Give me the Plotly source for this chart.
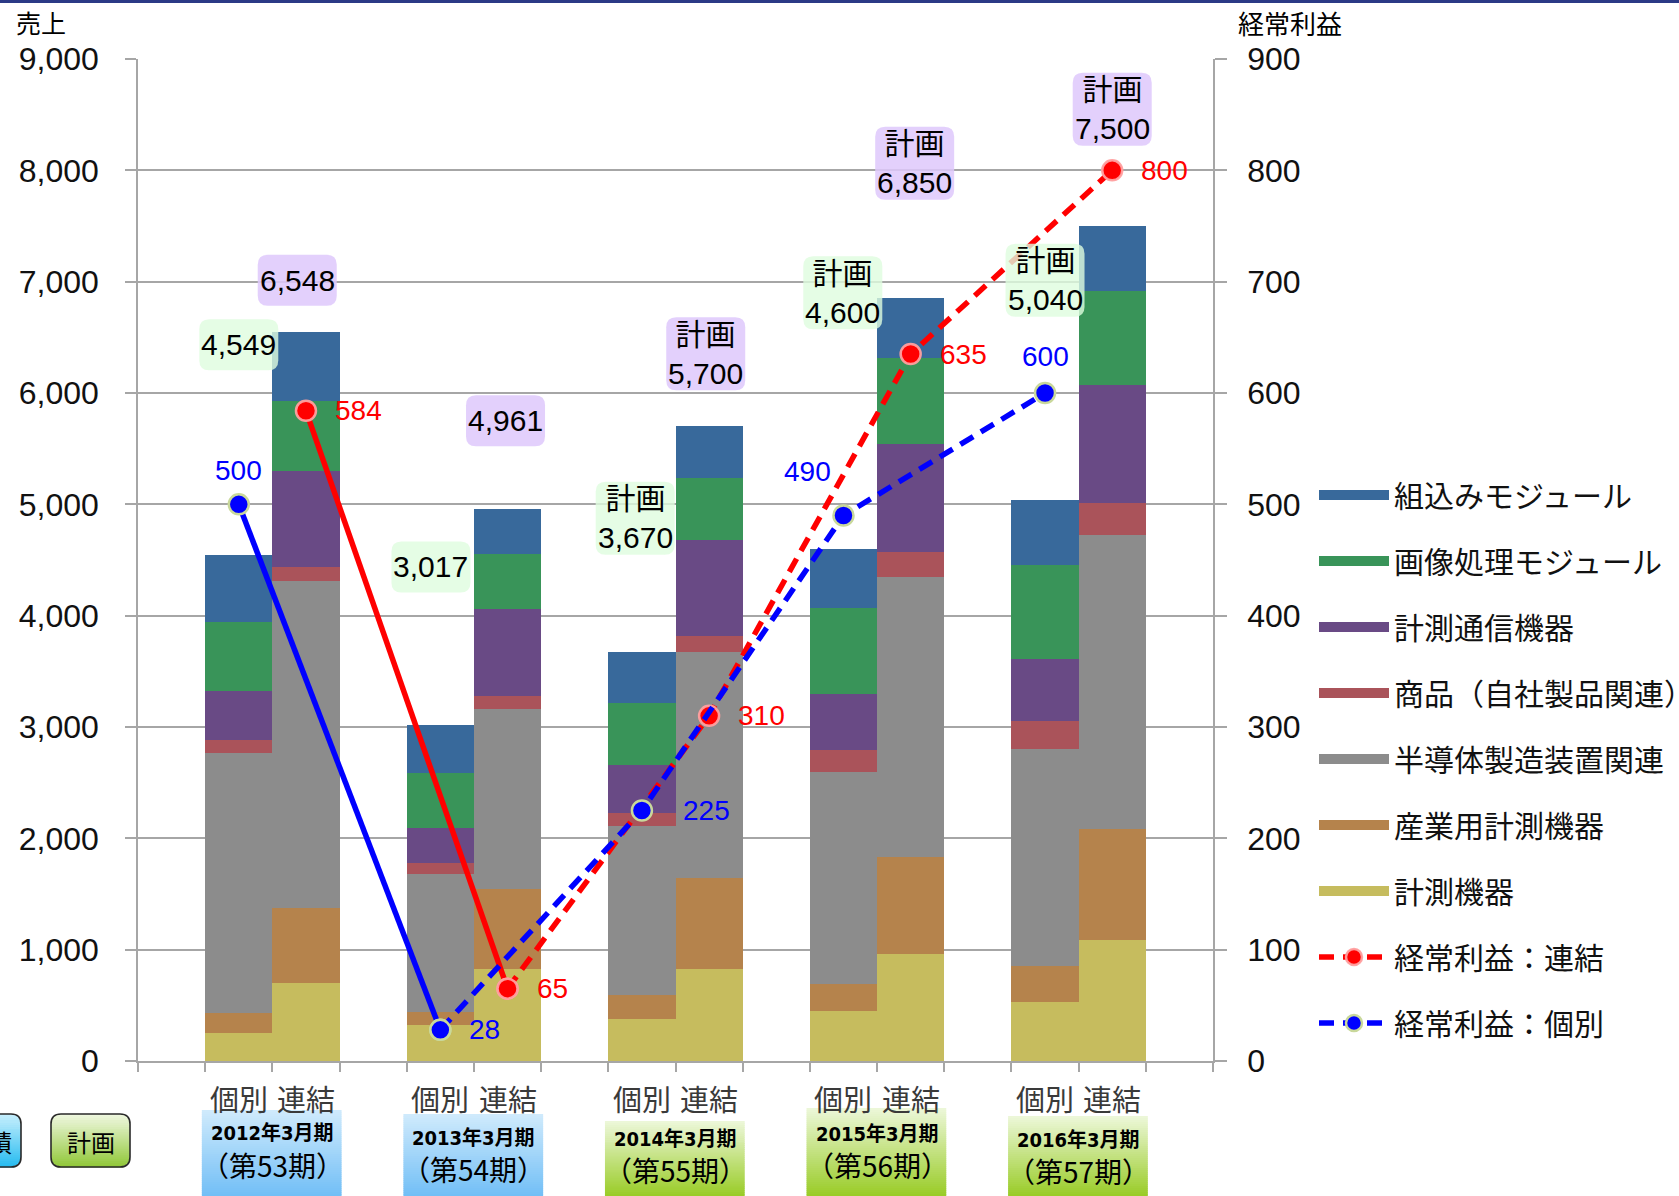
import plotly.graph_objects as go

# ---------------- data ----------------
periods = ["2012年3月期", "2013年3月期", "2014年3月期", "2015年3月期", "2016年3月期"]
terms = ["（第53期）", "（第54期）", "（第55期）", "（第56期）", "（第57期）"]
kinds = ["個別", "連結"]
is_plan = [False, False, True, True, True]

segments = ["計測機器", "産業用計測機器", "半導体製造装置関連", "商品（自社製品関連）",
            "計測通信機器", "画像処理モジュール", "組込みモジュール"]
seg_colors = ["#C6BC5E", "#B5834C", "#8C8C8C", "#AA535A", "#694A85", "#399459", "#38699B"]

# 個別 (non-consolidated) sales by segment, 5 periods
ind_keisoku = [250, 320, 380, 445, 530]
ind_sangyo = [180, 120, 210, 245, 325]
ind_handotai = [2340, 1240, 1520, 1905, 1945]
ind_shohin = [110, 95, 120, 200, 255]
ind_tsushin = [445, 320, 430, 500, 560]
ind_gazo = [622, 495, 555, 770, 840]
ind_kumikomi = [602, 427, 455, 535, 585]

# 連結 (consolidated) sales by segment
con_keisoku = [700, 825, 830, 960, 1090]
con_sangyo = [670, 720, 815, 875, 995]
con_handotai = [2940, 1615, 2030, 2510, 2640]
con_shohin = [125, 120, 145, 225, 285]
con_tsushin = [865, 780, 860, 975, 1060]
con_gazo = [630, 490, 555, 770, 845]
con_kumikomi = [618, 411, 465, 535, 585]

ind_series = [ind_keisoku, ind_sangyo, ind_handotai, ind_shohin, ind_tsushin, ind_gazo, ind_kumikomi]
con_series = [con_keisoku, con_sangyo, con_handotai, con_shohin, con_tsushin, con_gazo, con_kumikomi]

# ordinary profit
profit_con = [584, 65, 310, 635, 800]
profit_ind = [500, 28, 225, 490, 600]

# ---------------- layout helpers ----------------
W, H = 1679, 1196
ML, MR, MT, MB = 138, 466, 59, 135
PW = W - ML - MR
PH = H - MT - MB
Y_BOTTOM = H - MB
XMAX, YMAX, Y2MAX = 16, 9000, 900


def px_x(px):
    return (px - ML) / PW


def px_y(py):
    return (Y_BOTTOM - py) / PH


def dx_to_px(x):
    return ML + x / XMAX * PW


def dy_to_px(y):
    return Y_BOTTOM - y / YMAX * PH


ind_x = [3 * i + 1.5 for i in range(len(periods))]
con_x = [3 * i + 2.5 for i in range(len(periods))]

fig = go.Figure()

# stacked bars
for name, col, iv, cv in zip(segments, seg_colors, ind_series, con_series):
    fig.add_trace(go.Bar(
        x=ind_x + con_x, y=iv + cv, width=1.0, name=name,
        marker=dict(color=col, line=dict(width=0)),
        showlegend=False, legendgroup=name, hoverinfo="y+name"))

# legend proxies (wide line symbols like the original)
for name, col in reversed(list(zip(segments, seg_colors))):
    fig.add_trace(go.Scatter(
        x=[None], y=[None], mode="lines", name=name, legendgroup=name,
        line=dict(color=col, width=12)))

RED, BLUE = "#FF0000", "#0000FF"
DASH = "15px,9px"
red_marker = dict(color=RED, size=20, line=dict(color="rgba(255,160,160,0.95)", width=2.5))
blue_marker = dict(color=BLUE, size=20, line=dict(color="#C9D89B", width=2.5))

# red: 経常利益 連結
fig.add_trace(go.Scatter(x=con_x[:2], y=profit_con[:2], yaxis="y2", mode="lines+markers",
                         line=dict(color=RED, width=5.5), marker=red_marker,
                         showlegend=False, legendgroup="rc"))
fig.add_trace(go.Scatter(x=con_x[1:], y=profit_con[1:], yaxis="y2", mode="lines+markers",
                         name="経常利益：連結", legendgroup="rc",
                         line=dict(color=RED, width=5.5, dash=DASH), marker=red_marker))
# blue: 経常利益 個別
fig.add_trace(go.Scatter(x=ind_x[:2], y=profit_ind[:2], yaxis="y2", mode="lines+markers",
                         line=dict(color=BLUE, width=5.5), marker=blue_marker,
                         showlegend=False, legendgroup="bi"))
fig.add_trace(go.Scatter(x=ind_x[1:], y=profit_ind[1:], yaxis="y2", mode="lines+markers",
                         name="経常利益：個別", legendgroup="bi",
                         line=dict(color=BLUE, width=5.5, dash=DASH), marker=blue_marker))

annotations = []
shapes = []

NUMFONT = "Liberation Sans, Arial, Noto Sans CJK JP"
JPFONT = "Noto Sans CJK JP, Noto Sans, sans-serif"

# profit value labels
red_shift = [(27, 0), (27, 0), (27, 0), (27, 0), (27, 0)]
blue_shift = [(0, 34, "center"), (27, 0, "left"), (39, 0, "left"), (-36, 44, "center"), (0, 37, "center")]
for x, v, (xs, ys) in zip(con_x, profit_con, red_shift):
    annotations.append(dict(x=x, y=v, xref="x", yref="y2", text=str(v), showarrow=False,
                            xanchor="left", xshift=xs, yshift=ys,
                            font=dict(family=NUMFONT, size=28, color=RED)))
for x, v, (xs, ys, xa) in zip(ind_x, profit_ind, blue_shift):
    annotations.append(dict(x=x, y=v, xref="x", yref="y2", text=str(v), showarrow=False,
                            xanchor=xa, xshift=xs, yshift=ys,
                            font=dict(family=NUMFONT, size=28, color=BLUE)))


def rounded_path(x0, y0, x1, y1, r):
    X = lambda v: f"{px_x(v):.5f}"
    Y = lambda v: f"{px_y(v):.5f}"
    return (f"M {X(x0 + r)},{Y(y0)} L {X(x1 - r)},{Y(y0)} Q {X(x1)},{Y(y0)} {X(x1)},{Y(y0 + r)} "
            f"L {X(x1)},{Y(y1 - r)} Q {X(x1)},{Y(y1)} {X(x1 - r)},{Y(y1)} "
            f"L {X(x0 + r)},{Y(y1)} Q {X(x0)},{Y(y1)} {X(x0)},{Y(y1 - r)} "
            f"L {X(x0)},{Y(y0 + r)} Q {X(x0)},{Y(y0)} {X(x0 + r)},{Y(y0)} Z")


# total labels (rounded translucent boxes)
ind_totals = [sum(s[i] for s in ind_series) for i in range(len(periods))]
con_totals = [sum(s[i] for s in con_series) for i in range(len(periods))]
ind_lab_pos = [(1.50, 6433), (4.36, 4438), (7.40, 4874), (10.49, 6900), (13.50, 7012)]
con_lab_pos = [(2.37, 7012), (5.47, 5750), (8.45, 6352), (11.56, 8064), (14.50, 8549)]

for totals, poss, fillc in [(ind_totals, ind_lab_pos, "rgba(222,252,222,0.80)"),
                            (con_totals, con_lab_pos, "rgba(222,200,252,0.85)")]:
    for t, plan, (x, y) in zip(totals, is_plan, poss):
        txt = f"{t:,}"
        if plan:
            txt = "計画<br>" + txt
        cx, cy = dx_to_px(x), dy_to_px(y)
        bw = 79
        bh = 73 if plan else 51
        shapes.append(dict(type="path", xref="paper", yref="paper",
                           path=rounded_path(cx - bw / 2, cy - bh / 2, cx + bw / 2, cy + bh / 2, 10),
                           fillcolor=fillc, line=dict(width=0), layer="above"))
        annotations.append(dict(x=x, y=y, xref="x", yref="y", text=txt, showarrow=False,
                                xanchor="center", yanchor="middle",
                                font=dict(family=NUMFONT, size=30, color="#000000")))


def lerp(c0, c1, t):
    return "rgb(%d,%d,%d)" % tuple(round(a + (b - a) * t) for a, b in zip(c0, c1))


def gradient_box(x0, y0, x1, y1, ctop, cbot, r=0, border=None):
    n = max(8, int((y1 - y0) / 2))
    h = (y1 - y0) / n
    for k in range(n):
        sy0 = y0 + k * h
        sy1 = sy0 + h + 0.6
        mid = (sy0 + sy1) / 2
        inset = 0
        if r > 0:
            d = None
            if mid < y0 + r:
                d = y0 + r - mid
            elif mid > y1 - r:
                d = mid - (y1 - r)
            if d is not None:
                inset = r - (max(r * r - d * d, 0)) ** 0.5
        shapes.append(dict(type="rect", xref="paper", yref="paper",
                           x0=px_x(x0 + inset), x1=px_x(x1 - inset),
                           y0=px_y(sy1), y1=px_y(sy0),
                           fillcolor=lerp(ctop, cbot, k / (n - 1)), line=dict(width=0),
                           layer="above"))
    if border:
        shapes.append(dict(type="path", xref="paper", yref="paper",
                           path=rounded_path(x0, y0, x1, y1, r), fillcolor="rgba(0,0,0,0)",
                           line=dict(color=border, width=1.6), layer="above"))


# period boxes under the axis
BLUE_TOP, BLUE_BOT = (207, 234, 252), (112, 190, 246)
GREEN_TOP, GREEN_BOT = (236, 247, 216), (152, 203, 36)
box_tops = [1110, 1114, 1121, 1108, 1116]
year_text_y = [1133, 1138, 1139, 1134, 1140]
term_text_y = [1165, 1169, 1170, 1165, 1171]
for i, (p, tm, plan) in enumerate(zip(periods, terms, is_plan)):
    x0 = dx_to_px(ind_x[i] - 0.55)
    x1 = dx_to_px(con_x[i] + 0.53)
    top = box_tops[i]
    ct, cb = (GREEN_TOP, GREEN_BOT) if plan else (BLUE_TOP, BLUE_BOT)
    gradient_box(x0, top, x1, H + 2, ct, cb)
    cx = (ind_x[i] + con_x[i]) / 2
    annotations.append(dict(x=cx, y=px_y(year_text_y[i]), xref="x", yref="paper", text=f"<b>{p}</b>",
                            showarrow=False, xanchor="center", yanchor="middle",
                            font=dict(family="Liberation Sans Narrow, DejaVu Sans Condensed, Noto Sans CJK JP",
                                      size=20, color="#000000")))
    annotations.append(dict(x=cx, y=px_y(term_text_y[i]), xref="x", yref="paper", text=tm,
                            showarrow=False, xanchor="center", yanchor="middle",
                            font=dict(family=JPFONT, size=28, color="#000000")))

# 個別 / 連結 labels under each bar
for i in range(len(periods)):
    for x, k in ((ind_x[i], kinds[0]), (con_x[i], kinds[1])):
        annotations.append(dict(x=x, y=px_y(1098), xref="x", yref="paper", text=k,
                                showarrow=False, xanchor="center", yanchor="middle",
                                font=dict(family=JPFONT, size=29, color="#3a3a3a")))

# small legend buttons at bottom-left
gradient_box(-60, 1114, 21, 1167, (196, 238, 253), (40, 188, 240), r=10, border="#2a2a2a")
annotations.append(dict(x=px_x(-12), y=px_y(1141), xref="paper", yref="paper", text="実績",
                        showarrow=False, xanchor="center", yanchor="middle",
                        font=dict(family=JPFONT, size=24, color="#000000")))
gradient_box(51, 1114, 130, 1167, (238, 247, 222), (146, 200, 58), r=10, border="#2a2a2a")
annotations.append(dict(x=px_x(90.5), y=px_y(1141), xref="paper", yref="paper", text="計画",
                        showarrow=False, xanchor="center", yanchor="middle",
                        font=dict(family=JPFONT, size=24, color="#000000")))

# axis titles
annotations.append(dict(x=px_x(14), y=px_y(22), xref="paper", yref="paper", text="売上",
                        showarrow=False, xanchor="left", yanchor="middle",
                        font=dict(family=JPFONT, size=25, color="#000000")))
annotations.append(dict(x=px_x(1236), y=px_y(22), xref="paper", yref="paper", text="経常利益",
                        showarrow=False, xanchor="left", yanchor="middle",
                        font=dict(family=JPFONT, size=26, color="#000000")))

# top navy rule
shapes.append(dict(type="rect", xref="paper", yref="paper", x0=px_x(0), x1=px_x(W),
                   y0=px_y(3), y1=px_y(-2), fillcolor="#2B3A86", line=dict(width=0), layer="above"))

GRID = "#A6A6A6"
fig.update_layout(
    width=W, height=H,
    margin=dict(l=ML, r=MR, t=MT, b=MB, autoexpand=False),
    paper_bgcolor="white", plot_bgcolor="white",
    barmode="relative", bargap=0,
    font=dict(family=JPFONT, color="#000000"),
    xaxis=dict(range=[0, XMAX], tickvals=list(range(XMAX + 1)), showticklabels=False,
               ticks="outside", ticklen=9, tickwidth=1.5, tickcolor=GRID,
               showline=True, linecolor=GRID, linewidth=1.5, showgrid=False, zeroline=False,
               fixedrange=True, automargin=False),
    yaxis=dict(range=[0, YMAX], dtick=1000, tickformat=",d", showgrid=True,
               gridcolor=GRID, gridwidth=1.5, showline=True, linecolor=GRID, linewidth=1.5,
               ticks="outside", ticklen=11, tickwidth=1.5, tickcolor=GRID, ticklabelstandoff=20,
               tickfont=dict(family=NUMFONT, size=32, color="#111111"), zeroline=False,
               automargin=False),
    yaxis2=dict(range=[0, Y2MAX], dtick=100, overlaying="y", side="right", showgrid=False,
                showline=True, linecolor=GRID, linewidth=1.5, ticks="outside", ticklen=12,
                tickwidth=1.5, tickcolor=GRID, ticklabelstandoff=14,
                tickfont=dict(family=NUMFONT, size=32, color="#111111"), zeroline=False,
                automargin=False),
    legend=dict(x=px_x(1314), y=px_y(469), xanchor="left", yanchor="top",
                bgcolor="rgba(0,0,0,0)", itemwidth=70, tracegroupgap=24,
                traceorder="grouped", font=dict(family=JPFONT, size=30, color="#111111")),
    annotations=annotations,
    shapes=shapes,
    showlegend=True,
)

fig.write_html("out.html", config={"displayModeBar": False},
               post_script="document.body.style.margin='0';")
